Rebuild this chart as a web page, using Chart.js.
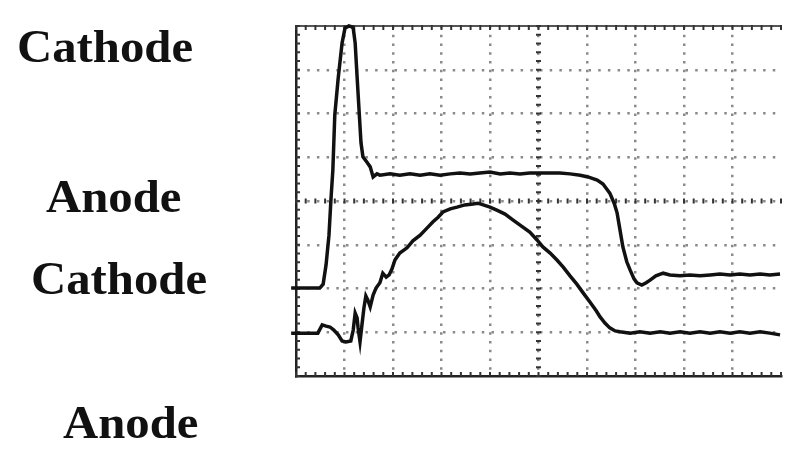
<!DOCTYPE html>
<html>
<head>
<meta charset="utf-8">
<script src="https://cdn.jsdelivr.net/npm/chart.js@4.4.0/dist/chart.umd.min.js"></script>
<style>
  html, body { margin: 0; padding: 0; background: #fff; }
  #wrap { position: relative; width: 800px; height: 460px; overflow: hidden; }
  canvas { position: absolute; left: 0; top: 0; }
  .lbl { position: absolute; font-family: "Liberation Serif", "Times New Roman", serif; font-weight: bold;
         font-size: 46px; line-height: 46px; color: #111; white-space: nowrap;
         transform: scaleX(1.06); transform-origin: left center; }
</style>
</head>
<body>
<div id="wrap">
  <canvas id="c" width="800" height="460"></canvas>
  <div class="lbl" style="left:17px; top:24px;">Cathode</div>
  <div class="lbl" style="left:46px; top:174px;">Anode</div>
  <div class="lbl" style="left:31px; top:256px;">Cathode</div>
  <div class="lbl" style="left:63px; top:400px;">Anode</div>
</div>
<script>
// Horizontal position in screen divisions (0..10), vertical in divisions (0..8)
const xA = [-0.10, 0.08, 0.29, 0.49, 0.56, 0.62, 0.68, 0.72, 0.76, 0.80, 0.87, 0.95, 1.01, 1.09, 1.15, 1.18,
  1.22, 1.26, 1.30, 1.34, 1.38, 1.46, 1.53, 1.59, 1.67, 1.73, 1.94, 2.14, 2.35, 2.56, 2.76, 2.97, 3.18, 3.38,
  3.59, 3.79, 4.00, 4.21, 4.41, 4.62, 4.82, 5.03, 5.24, 5.44, 5.65, 5.86, 6.02, 6.21, 6.33, 6.41, 6.47, 6.56,
  6.62, 6.68, 6.74, 6.82, 6.89, 6.97, 7.03, 7.13, 7.22, 7.30, 7.42, 7.57, 7.71, 7.92, 8.12, 8.33, 8.54, 8.74,
  8.95, 9.15, 9.36, 9.57, 9.77, 9.98];
const yA = [2.01, 2.01, 2.01, 2.01, 2.10, 2.54, 3.22, 4.02, 4.71, 5.97, 6.81, 7.61, 7.95, 8.00, 7.98, 7.95,
  7.61, 6.83, 6.08, 5.33, 5.01, 4.89, 4.78, 4.55, 4.62, 4.59, 4.62, 4.59, 4.62, 4.59, 4.62, 4.59, 4.62, 4.64,
  4.62, 4.64, 4.66, 4.62, 4.64, 4.62, 4.64, 4.64, 4.64, 4.64, 4.62, 4.59, 4.55, 4.48, 4.39, 4.27, 4.18, 3.95,
  3.73, 3.34, 2.95, 2.61, 2.42, 2.22, 2.13, 2.08, 2.13, 2.19, 2.29, 2.35, 2.31, 2.29, 2.31, 2.29, 2.31, 2.33,
  2.31, 2.33, 2.31, 2.33, 2.31, 2.33];

const xB = [-0.10, 0.08, 0.29, 0.45, 0.54, 0.62, 0.70, 0.78, 0.87, 0.95, 1.03, 1.13, 1.18, 1.22, 1.26, 1.28,
  1.32, 1.36, 1.40, 1.44, 1.48, 1.53, 1.59, 1.65, 1.73, 1.79, 1.86, 1.92, 1.98, 2.04, 2.14, 2.29, 2.41, 2.56,
  2.70, 2.82, 2.93, 3.03, 3.18, 3.32, 3.48, 3.65, 3.75, 3.86, 4.00, 4.14, 4.31, 4.47, 4.62, 4.82, 4.97, 5.09,
  5.24, 5.38, 5.51, 5.65, 5.79, 5.92, 6.06, 6.19, 6.27, 6.37, 6.47, 6.58, 6.68, 6.89, 7.09, 7.30, 7.51, 7.71,
  7.92, 8.12, 8.33, 8.54, 8.74, 8.95, 9.15, 9.36, 9.57, 9.77, 9.98];
const yB = [0.98, 0.98, 0.98, 0.98, 1.17, 1.14, 1.12, 1.05, 0.94, 0.80, 0.78, 0.80, 1.05, 1.44, 1.33, 1.10,
  0.78, 1.17, 1.55, 1.83, 1.74, 1.58, 1.85, 2.01, 2.13, 2.35, 2.26, 2.31, 2.45, 2.65, 2.81, 2.93, 3.09, 3.22,
  3.38, 3.52, 3.63, 3.75, 3.82, 3.86, 3.91, 3.93, 3.95, 3.91, 3.86, 3.79, 3.70, 3.57, 3.45, 3.29, 3.11, 2.95,
  2.81, 2.65, 2.49, 2.29, 2.10, 1.90, 1.69, 1.49, 1.35, 1.21, 1.10, 1.03, 1.01, 0.98, 1.01, 0.98, 1.01, 0.98,
  1.01, 0.98, 1.01, 0.98, 1.01, 0.98, 1.01, 0.98, 1.01, 0.98, 0.94];

const xDivisions = 10;
const yDivisions = 8;

const toPts = (xs, ys) => xs.map((v, i) => ({ x: v, y: ys[i] }));

const frameTicks = {
  id: 'frameTicks',
  beforeDatasetsDraw(chart) {
    const { ctx, chartArea: a, scales: { x, y } } = chart;
    ctx.save();
    ctx.strokeStyle = '#555';
    ctx.lineWidth = 2;
    ctx.beginPath();
    ctx.moveTo(a.left, a.top);
    ctx.lineTo(a.right, a.top);
    ctx.stroke();
    ctx.strokeStyle = '#333';
    ctx.lineWidth = 2;
    ctx.beginPath();
    const cy = y.getPixelForValue(yDivisions / 2);
    const cx = x.getPixelForValue(xDivisions / 2);
    for (let i = 0; i <= xDivisions * 5; i++) {
      const px = x.getPixelForValue(i / 5);
      ctx.moveTo(px, a.top - 1); ctx.lineTo(px, a.top + 4);
      ctx.moveTo(px, a.bottom); ctx.lineTo(px, a.bottom - 4);
      ctx.moveTo(px, cy - 2.5); ctx.lineTo(px, cy + 2.5);
    }
    for (let i = 0; i <= yDivisions * 5; i++) {
      const py = y.getPixelForValue(i / 5);
      ctx.moveTo(a.left, py); ctx.lineTo(a.left + 4, py);
      ctx.moveTo(cx - 2.5, py); ctx.lineTo(cx + 2.5, py);
    }
    ctx.stroke();
    ctx.restore();
  }
};

new Chart(document.getElementById('c'), {
  type: 'line',
  data: {
    datasets: [
      { data: toPts(xA, yA), borderColor: '#111', borderWidth: 3.5, pointRadius: 0, tension: 0, clip: false },
      { data: toPts(xB, yB), borderColor: '#111', borderWidth: 3.5, pointRadius: 0, tension: 0, clip: false }
    ]
  },
  options: {
    responsive: false,
    animation: false,
    devicePixelRatio: 1,
    layout: { padding: { left: 296, right: 19, top: 26, bottom: 84 } },
    plugins: { legend: { display: false }, tooltip: { enabled: false } },
    scales: {
      x: {
        type: 'linear', min: 0, max: xDivisions,
        ticks: { display: false, stepSize: 1 },
        grid: { drawTicks: false, lineWidth: 2.5,
                color: c => ((c.index === 0 || c.index === xDivisions) ? 'rgba(0,0,0,0)' : '#8a8a8a') },
        border: { display: true, color: '#222', width: 2.5, dash: [2.5, 6.25] }
      },
      y: {
        type: 'linear', min: 0, max: yDivisions,
        ticks: { display: false, stepSize: 1 },
        grid: { drawTicks: false, lineWidth: 2.5,
                color: c => ((c.index === 0 || c.index === yDivisions) ? 'rgba(0,0,0,0)' : '#8a8a8a') },
        border: { display: true, color: '#222', width: 2.5, dash: [2.5, 7.2] }
      }
    }
  },
  plugins: [frameTicks]
});
</script>
</body>
</html>
